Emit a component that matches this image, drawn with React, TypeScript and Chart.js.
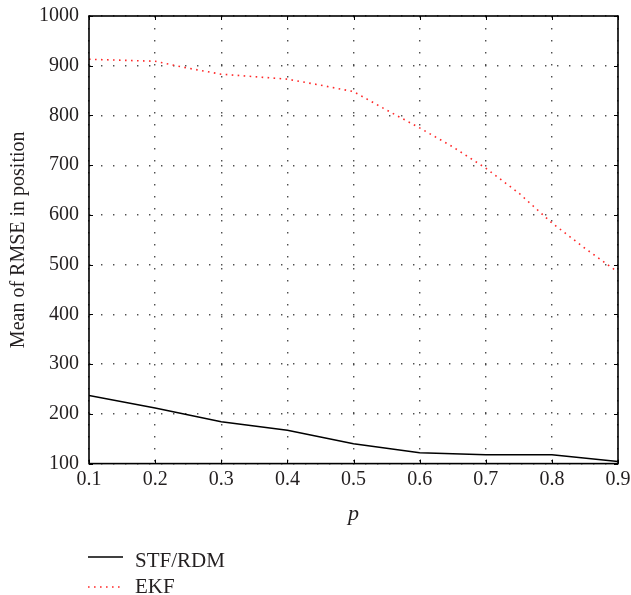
import { useEffect, useRef } from "react";
import { Chart, registerables } from "chart.js";

Chart.register(...registerables);

// Probability of detection p on the horizontal axis
const pTicks = [0.1, 0.2, 0.3, 0.4, 0.5, 0.6, 0.7, 0.8, 0.9];
const yTicks = [100, 200, 300, 400, 500, 600, 700, 800, 900, 1000];

// STF/RDM mean RMSE sampled at each p
const stfP = [0.1, 0.2, 0.3, 0.4, 0.5, 0.6, 0.7, 0.8, 0.9];
const stfRmse = [237, 212, 184, 167, 140, 122, 118, 118, 104];

// EKF mean RMSE sampled on a finer p grid
const ekfP = [0.1, 0.15, 0.2, 0.25, 0.3, 0.35, 0.4, 0.45, 0.5, 0.55, 0.6, 0.65, 0.7, 0.75, 0.8, 0.85, 0.9];
const ekfRmse = [913, 911, 909, 895, 883, 878, 873, 861, 848, 811, 775, 737, 694, 644, 584, 533, 485];

const seriesNames = ["STF/RDM", "EKF"];

const FONT = "'Liberation Serif', 'Times New Roman', serif";
const TEXT = "#231f20";
const GRID = "rgba(60,60,60,0.9)";

// Box around the plot, short inward tick marks, and the legend below the axes
const framePlugin = {
  id: "frameAndLegend",
  afterDraw(chart: any) {
    const { ctx, chartArea } = chart;
    const { left, right, top, bottom } = chartArea;
    const xs = chart.scales.x;
    const ys = chart.scales.y;
    ctx.save();
    ctx.strokeStyle = "#000";
    ctx.lineWidth = 1;
    const tl = 4;
    ctx.beginPath();
    pTicks.forEach((v) => {
      const px = Math.round(xs.getPixelForValue(v)) + 0.5;
      ctx.moveTo(px, bottom);
      ctx.lineTo(px, bottom - tl);
      ctx.moveTo(px, top);
      ctx.lineTo(px, top + tl);
    });
    yTicks.forEach((v) => {
      const py = Math.round(ys.getPixelForValue(v)) + 0.5;
      ctx.moveTo(left, py);
      ctx.lineTo(left + tl, py);
      ctx.moveTo(right, py);
      ctx.lineTo(right - tl, py);
    });
    ctx.stroke();

    ctx.lineWidth = 1.6;
    ctx.strokeRect(left, top, right - left, bottom - top);

    // legend
    const rows = [
      { lineY: chart.height - 38, textY: chart.height - 28 },
      { lineY: chart.height - 8, textY: chart.height - 2 },
    ];
    chart.data.datasets.forEach((ds: any, i: number) => {
      const r = rows[i];
      ctx.beginPath();
      ctx.strokeStyle = ds.borderColor;
      ctx.lineWidth = ds.borderWidth;
      ctx.setLineDash(ds.borderDash || []);
      ctx.moveTo(left - 1, r.lineY);
      ctx.lineTo(left + 34, r.lineY);
      ctx.stroke();
      ctx.setLineDash([]);
      ctx.fillStyle = TEXT;
      ctx.font = `21px ${FONT}`;
      ctx.textAlign = "left";
      ctx.textBaseline = "alphabetic";
      ctx.fillText(ds.label, left + 46, r.textY);
    });
    ctx.restore();
  },
};

export default function App() {
  const canvasRef = useRef<HTMLCanvasElement | null>(null);

  useEffect(() => {
    const canvas = canvasRef.current;
    if (!canvas) return;
    const chart = new Chart(canvas, {
      type: "line",
      data: {
        datasets: [
          {
            label: seriesNames[0],
            data: stfP.map((x, i) => ({ x, y: stfRmse[i] })),
            borderColor: "#000000",
            borderWidth: 1.5,
            pointRadius: 0,
            tension: 0,
            fill: false,
          },
          {
            label: seriesNames[1],
            data: ekfP.map((x, i) => ({ x, y: ekfRmse[i] })),
            borderColor: "#ff2a2a",
            borderWidth: 1.6,
            borderDash: [1.6, 4.4],
            pointRadius: 0,
            tension: 0,
            fill: false,
          },
        ],
      },
      options: {
        responsive: false,
        animation: false,
        devicePixelRatio: 1,
        layout: { padding: { top: 16, right: 13, bottom: 68, left: 0 } },
        plugins: {
          legend: { display: false },
          tooltip: { enabled: false },
        },
        scales: {
          x: {
            type: "linear",
            min: 0.1,
            max: 0.9,
            afterBuildTicks: (scale: any) => {
              scale.ticks = pTicks.map((value) => ({ value }));
            },
            afterFit: (scale: any) => {
              scale.paddingLeft = 0;
              scale.paddingRight = 0;
            },
            ticks: {
              callback: (v: any) => Number(v).toFixed(1),
              padding: 4,
              maxRotation: 0,
              autoSkip: false,
              color: TEXT,
              font: { family: FONT, size: 20 },
            },
            grid: { color: GRID, lineWidth: 1.4, drawTicks: false },
            border: { display: false, dash: [1.4, 10.6] },
            title: {
              display: true,
              text: "p",
              color: TEXT,
              font: { family: FONT, size: 22, style: "italic" },
              padding: { top: 5, bottom: 0 },
            },
          },
          y: {
            type: "linear",
            min: 100,
            max: 1000,
            afterBuildTicks: (scale: any) => {
              scale.ticks = yTicks.map((value) => ({ value }));
            },
            afterFit: (scale: any) => {
              scale.width = 89;
              scale.paddingTop = 0;
              scale.paddingBottom = 0;
            },
            ticks: {
              callback: (v: any) => String(v),
              padding: 10,
              color: TEXT,
              font: { family: FONT, size: 20 },
            },
            grid: { color: GRID, lineWidth: 1.4, drawTicks: false },
            border: { display: false, dash: [1.4, 10.6] },
            title: {
              display: true,
              text: "Mean of RMSE in position",
              color: TEXT,
              font: { family: FONT, size: 20 },
              padding: { top: 7, bottom: 0 },
            },
          },
        },
      },
      plugins: [framePlugin],
    });
    return () => chart.destroy();
  }, []);

  return (
    <div style={{ position: "fixed", left: 0, top: 0, width: 631, height: 595, background: "#fff" }}>
      <canvas ref={canvasRef} width={631} height={595} />
    </div>
  );
}
